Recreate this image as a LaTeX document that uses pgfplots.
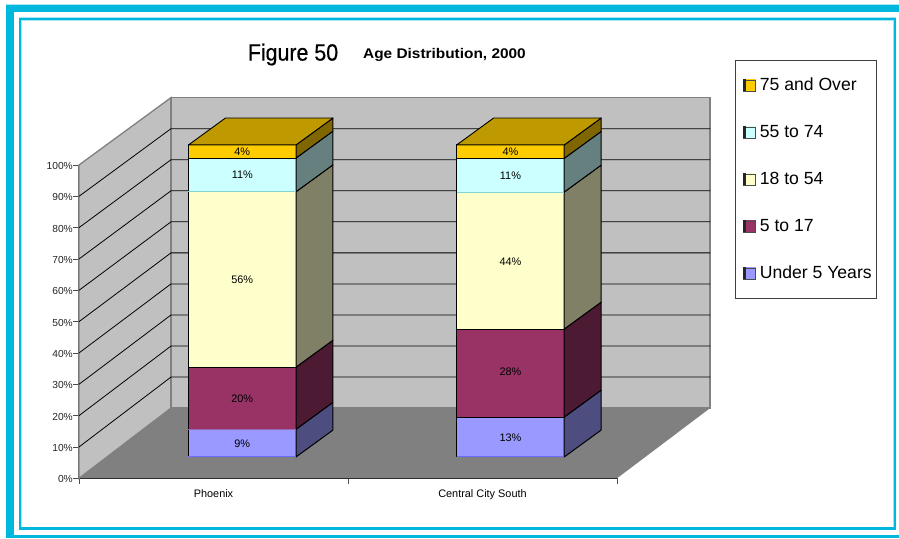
\documentclass[border=0pt]{standalone}
\usepackage{fontspec}
\setmainfont{Liberation Sans}
\usepackage{pgfplots}
\pgfplotsset{compat=1.18}
\definecolor{frame}{RGB}{0,184,222}
\definecolor{halo}{RGB}{170,228,240}
\definecolor{wall}{RGB}{192,192,192}
\definecolor{floorc}{RGB}{128,128,128}
\definecolor{blueF}{RGB}{153,153,255}\definecolor{blueS}{RGB}{77,77,128}
\definecolor{plumF}{RGB}{153,51,102}\definecolor{plumS}{RGB}{77,26,51}
\definecolor{yelF}{RGB}{255,255,204}\definecolor{yelS}{RGB}{128,128,102}
\definecolor{cyaF}{RGB}{204,255,255}\definecolor{cyaS}{RGB}{102,128,128}
\definecolor{goldF}{RGB}{255,204,0}\definecolor{goldS}{RGB}{128,102,0}\definecolor{goldT}{RGB}{191,153,0}
% one stacked segment: x of left front edge, lower and upper cumulative percent, front and side colour
\newcommand\barseg[5]{%
  \pgfmathsetmacro\xr{#1+0.3997}%
  \pgfmathsetmacro\xrb{\xr+0.1375}%
  \pgfmathsetmacro\yl{6.8+0.996*#2}%
  \pgfmathsetmacro\yh{6.8+0.996*#3}%
  \pgfmathsetmacro\ylb{\yl+8.6}%
  \pgfmathsetmacro\yhb{\yh+8.6}%
  \edef\cmd{\noexpand\addplot[forget plot,fill=#4,draw=black,line width=1pt,line join=round]
     coordinates {(#1,\yl)(\xr,\yl)(\xr,\yh)(#1,\yh)} -- cycle;
    \noexpand\addplot[forget plot,fill=#5,draw=black,line width=1pt,line join=round]
     coordinates {(\xr,\yl)(\xrb,\ylb)(\xrb,\yhb)(\xr,\yh)} -- cycle;}\cmd}
\newcommand\bartop[2]{%
  \pgfmathsetmacro\xr{#1+0.3997}%
  \pgfmathsetmacro\xrb{\xr+0.1375}%
  \pgfmathsetmacro\xlb{#1+0.1375}%
  \pgfmathsetmacro\yh{6.8+0.996*#2}%
  \pgfmathsetmacro\yhb{\yh+8.6}%
  \edef\cmd{\noexpand\addplot[forget plot,fill=goldT,draw=black,line width=.9pt,line join=round]
     coordinates {(#1,\yh)(\xr,\yh)(\xrb,\yhb)(\xlb,\yhb)} -- cycle;}\cmd}
% divider drawn in a lighter colour
\newcommand\divider[3]{%
  \pgfmathsetmacro\xr{#1+0.3997}%
  \pgfmathsetmacro\yl{6.8+0.996*#2}%
  \edef\cmd{\noexpand\addplot[forget plot,draw=#3,line width=1pt] coordinates {(#1,\yl)(\xr,\yl)};}\cmd}
% gridline: tick on the front of the side wall, back of side wall, across the back wall
\newcommand\gridl[1]{%
  \pgfmathsetmacro\yb{22.4+0.991*#1}%
  \edef\cmd{\noexpand\addplot[forget plot,draw=black,line width=.8pt] coordinates {(0,#1)(0.342,\yb)(2.346,\yb)};}\cmd}
\newcommand\legtext[1]{\raisebox{-1.8pt}{\makebox[113pt][l]{\hspace{4pt}#1}}}
\pgfplotsset{
  keybox/.style={legend image code/.code={
    \fill[#1] (0,-5.5pt) rectangle (12pt,5.5pt);
    \draw[black!70,line width=.5pt] (0,-5.5pt) rectangle (12pt,5.5pt);
    \fill[black!85] (0,-5.5pt) rectangle (2pt,5.5pt);}}
}
\begin{document}
\begin{tikzpicture}
\path[use as bounding box] (0,0) rectangle (899pt,538pt);
% page frame
\fill[halo] (6pt,0pt) rectangle (899pt,534pt);
\fill[white] (7pt,0pt) rectangle (899pt,533pt);
\fill[frame] (6pt,525.5pt) rectangle (899pt,533pt);
\fill[frame] (6pt,0pt) rectangle (13.5pt,533pt);
\fill[frame] (6pt,0pt) rectangle (899pt,3.5pt);
\draw[halo,line width=3.4pt] (20.3pt,9.5pt) rectangle (894.6pt,519pt);
\draw[frame,line width=2.2pt] (20.3pt,9.5pt) rectangle (894.6pt,519pt);
\begin{axis}[
  at={(79pt,59.7pt)}, anchor=south west,
  scale only axis, width=538pt, height=313.3pt,
  xmin=0, xmax=2, ymin=0, ymax=100,
  clip=false,
  axis x line*=bottom, axis y line*=left,
  x axis line style={-,black,line width=1pt},
  y axis line style={-,black!60,line width=1.2pt},
  xtick={0,1,2}, xticklabels={,,},
  extra x ticks={0.5,1.5},
  extra x tick labels={Phoenix,Central City South},
  extra x tick style={major tick length=0pt,
    xticklabel style={font=\fontsize{10.9}{12}\selectfont, inner sep=0pt, yshift=-11pt}},
  ytick={0,10,...,100},
  yticklabels={0\%,10\%,20\%,30\%,40\%,50\%,60\%,70\%,80\%,90\%,100\%},
  yticklabel style={font=\fontsize{10.2}{12}\selectfont, inner sep=0pt, xshift=-0.5pt, yshift=-1pt, text=black!85},
  tick style={black!70,line width=.9pt},
  major tick length=5.5pt,
  tick align=outside,
  legend cell align=left,
  legend style={at={(1.2193,1.3353)}, anchor=north west, draw=black!75, line width=.9pt,
    font=\fontsize{17.6}{20}\selectfont,
    inner xsep=7.5pt, inner ysep=17pt,
    /tikz/row sep=31pt, /tikz/column sep=0pt,
    nodes={inner sep=0pt, text height=11.5pt, text depth=4.5pt}},
]
% legend
\addlegendimage{keybox=goldF}\addlegendentry{\legtext{75 and Over}}
\addlegendimage{keybox=cyaF}\addlegendentry{\legtext{55 to 74}}
\addlegendimage{keybox=yelF}\addlegendentry{\legtext{18 to 54}}
\addlegendimage{keybox=plumF}\addlegendentry{\legtext{5 to 17}}
\addlegendimage{keybox=blueF}\addlegendentry{\legtext{Under 5 Years}}
% walls and floor
\addplot[forget plot,fill=wall,draw=floorc,line width=1.3pt] coordinates {(0,0)(0.342,22.4)(0.342,121.5)(0,100)} -- cycle;
\addplot[forget plot,fill=wall,draw=floorc,line width=1.3pt] coordinates {(0.342,22.4)(2.346,22.4)(2.346,121.5)(0.342,121.5)} -- cycle;
\addplot[forget plot,fill=floorc,draw=none] coordinates {(0,0)(2,0)(2.346,22.4)(0.342,22.4)} -- cycle;
\gridl{10}\gridl{20}\gridl{30}\gridl{40}\gridl{50}\gridl{60}\gridl{70}\gridl{80}\gridl{90}
% Phoenix
\barseg{0.407}{0}{8.9}{blueF}{blueS}
\barseg{0.407}{8.9}{28.8}{plumF}{plumS}
\barseg{0.407}{28.8}{85}{yelF}{yelS}
\barseg{0.407}{85}{95.8}{cyaF}{cyaS}
\barseg{0.407}{95.8}{100}{goldF}{goldS}
\bartop{0.407}{100}
\divider{0.407}{0}{blueF!70!blue}
\divider{0.407}{8.9}{blueF!50!plumF}
\divider{0.407}{85}{cyaF!65!teal}
% Central City South
\barseg{1.404}{0}{12.8}{blueF}{blueS}
\barseg{1.404}{12.8}{41}{plumF}{plumS}
\barseg{1.404}{41}{84.9}{yelF}{yelS}
\barseg{1.404}{84.9}{95.7}{cyaF}{cyaS}
\barseg{1.404}{95.7}{100}{goldF}{goldS}
\bartop{1.404}{100}
\divider{1.404}{0}{blueF!70!blue}
\divider{1.404}{84.9}{cyaF!65!teal}
% data labels
\addplot[forget plot,draw=none,mark=none,point meta=explicit symbolic,
  nodes near coords,
  every node near coord/.append style={anchor=center,inner sep=0pt,text=black,yshift=-0.8pt,
    font=\fontsize{10.9}{12}\selectfont}]
  coordinates {
   (0.607,11.2)[9\%] (0.607,25.6)[20\%] (0.607,63.5)[56\%] (0.607,97)[11\%] (0.607,104.6)[4\%]
   (1.604,13.2)[13\%] (1.604,34.4)[28\%] (1.604,69.3)[44\%] (1.604,96.9)[11\%] (1.604,104.6)[4\%]
  };
\end{axis}
\node[inner sep=0pt] at (293pt,483.5pt) {\fontsize{23.5}{26}\selectfont\addfontfeature{FakeBold=0.5}\scalebox{0.91}[1]{Figure 50}};
\node[inner sep=0pt] at (444.5pt,483pt) {\fontsize{14}{16}\selectfont\bfseries\scalebox{1.1}[1]{Age Distribution, 2000}};
\end{tikzpicture}
\end{document}
